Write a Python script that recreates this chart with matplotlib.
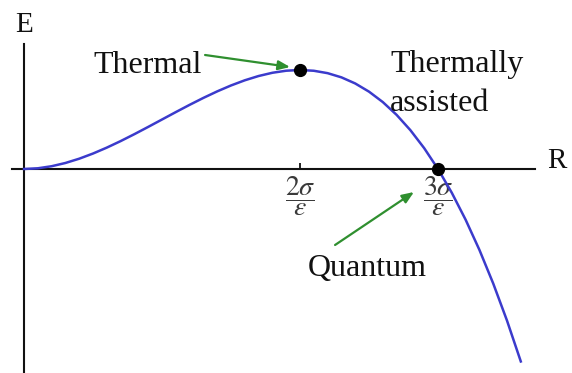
import numpy as np
import matplotlib.pyplot as plt

plt.rcParams['font.family'] = ['Liberation Serif', 'DejaVu Serif']
plt.rcParams['mathtext.fontset'] = 'stix'

# energy of a bubble of radius R (R in units of sigma/epsilon)
R = [0.0, 0.1, 0.2, 0.3, 0.4, 0.5, 0.6, 0.7, 0.8, 0.9,
     1.0, 1.1, 1.2, 1.3, 1.4, 1.5, 1.6, 1.7, 1.8, 1.9,
     2.0, 2.1, 2.2, 2.3, 2.4, 2.5, 2.6, 2.7, 2.8, 2.9,
     3.0, 3.1, 3.2, 3.3, 3.4, 3.5, 3.6]
E = [0.0, 0.029, 0.112, 0.243, 0.416, 0.625, 0.864, 1.127, 1.408, 1.701,
     2.0, 2.299, 2.592, 2.873, 3.136, 3.375, 3.584, 3.757, 3.888, 3.971,
     4.0, 3.969, 3.872, 3.703, 3.456, 3.125, 2.704, 2.187, 1.568, 0.841,
     0.0, -0.961, -2.048, -3.267, -4.624, -6.125, -7.776]

tick_pos = [2, 3]
tick_labels = [r'$\dfrac{2\sigma}{\epsilon}$', r'$\dfrac{3\sigma}{\epsilon}$']

blue = '#3b3bcc'
green = '#2f8f2f'
ink = '#111111'

fig = plt.figure(figsize=(5.72, 3.73), dpi=100)
ax = fig.add_axes([0, 0, 1, 1])
ax.set_xlim(-0.174, 3.971)
ax.set_ylim(-8.242, 6.828)

# axes through the origin
for side in ['top', 'right']:
    ax.spines[side].set_visible(False)
ax.spines['left'].set_position(('data', 0))
ax.spines['bottom'].set_position(('data', 0))
ax.spines['left'].set_bounds(-8.3, 5.05)
ax.spines['bottom'].set_bounds(-0.087, 3.70)
for side in ['left', 'bottom']:
    ax.spines[side].set_linewidth(1.5)
    ax.spines[side].set_color(ink)
ax.set_yticks([])
ax.set_xticks(tick_pos, tick_labels)
ax.tick_params(axis='x', direction='in', length=4.5, width=1.3,
               pad=4, labelsize=20, labelcolor='#3a3a3a', color=ink)

ax.plot(R, E, color=blue, lw=1.8, zorder=3)

# maximum (thermal) and zero crossing (quantum)
i_max = int(np.argmax(E))
i_zero = E.index(0.0, 1)
ax.plot([R[i_max], R[i_zero]], [E[i_max], E[i_zero]], 'o',
        color='black', ms=8.5, zorder=4)

ax.text(0, 5.8, 'E', fontsize=21, ha='center', va='center', color=ink)
ax.text(3.862, 0.32, 'R', fontsize=21, ha='center', va='center', color=ink)

ax.text(0.895, 3.88, 'Thermal', fontsize=23, ha='center', va='baseline', color=ink)
ax.text(2.652, 3.92, 'Thermally', fontsize=23, ha='left', va='baseline', color=ink)
ax.text(2.652, 2.34, 'assisted', fontsize=23, ha='left', va='baseline', color=ink)
ax.text(2.486, -4.32, 'Quantum', fontsize=23, ha='center', va='baseline', color=ink)

arrow = dict(arrowstyle='-|>,head_length=0.7,head_width=0.28', color=green,
             lw=1.6, shrinkA=0, shrinkB=0)
ax.annotate('', xy=(1.928, 4.121), xytext=(1.312, 4.606), arrowprops=arrow)
ax.annotate('', xy=(2.826, -0.929), xytext=(2.254, -3.07), arrowprops=arrow)

fig.savefig('out.png', dpi=100)
